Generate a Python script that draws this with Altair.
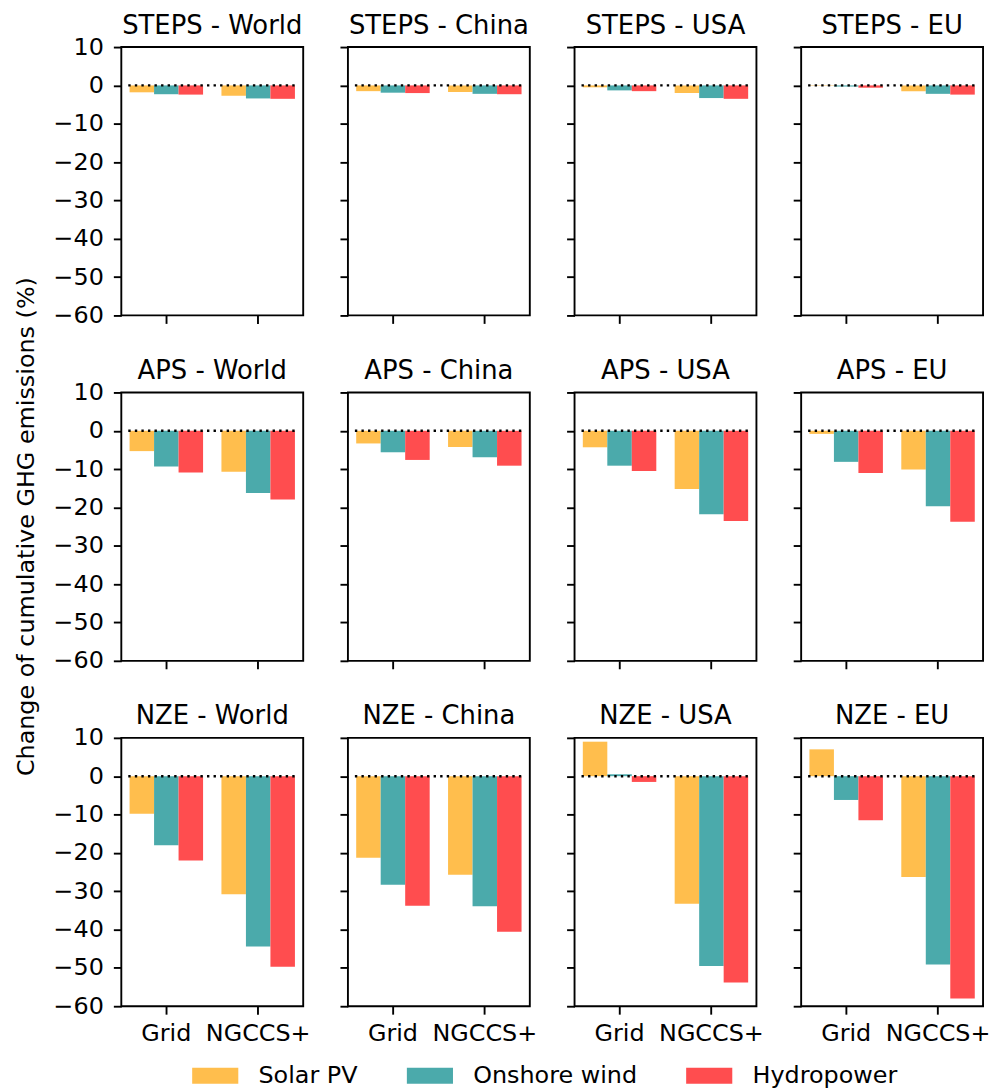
import altair as alt
import pandas as pd

scenarios = ["STEPS", "APS", "NZE"]
regions = ["World", "China", "USA", "EU"]
options = ["Grid", "NGCCS+"]
technologies = ["Solar PV", "Onshore wind", "Hydropower"]
colors = ["#FFBE4D", "#4BAAAB", "#FF4D4F"]

# order: scenario -> region -> option (Grid, NGCCS+)
solar_pv = [
    -1.8, -2.7, -1.5, -1.7, -0.5, -2.0, -0.1, -1.5,      # STEPS
    -5.3, -10.7, -3.3, -4.2, -4.3, -15.2, -0.8, -10.1,   # APS
    -9.8, -30.8, -21.3, -25.7, 9.0, -33.3, 7.0, -26.3,   # NZE
]
onshore_wind = [
    -2.3, -3.4, -1.9, -2.2, -1.3, -3.3, -0.3, -2.2,
    -9.3, -16.2, -5.6, -6.9, -9.1, -21.8, -8.1, -19.7,
    -18.0, -44.4, -28.3, -33.9, 0.5, -49.5, -6.2, -49.1,
]
hydropower = [
    -2.4, -3.5, -2.0, -2.3, -1.5, -3.5, -0.6, -2.4,
    -10.9, -17.9, -7.6, -9.1, -10.5, -23.5, -11.0, -23.7,
    -22.0, -49.7, -33.8, -40.6, -1.5, -53.8, -11.5, -58.0,
]
y_ticks = [10, 0, -10, -20, -30, -40, -50, -60]
y_title = "Change of cumulative GHG emissions (%)"

rows = []
i = 0
for sc in scenarios:
    for rg in regions:
        for op in options:
            for tech, vals in zip(technologies, [solar_pv, onshore_wind, hydropower]):
                rows.append(dict(scenario=sc, region=rg, option=op,
                                 technology=tech, value=vals[i]))
            i += 1
df = pd.DataFrame(rows)
zero_df = pd.DataFrame({"baseline": [0]})

FONT = "DejaVu Sans"
W, H = 183, 270
LABEL = 24
LW = 1.9


def panel(r, c):
    sc, rg = scenarios[r], regions[c]
    sub = df[(df.scenario == sc) & (df.region == rg)]
    left = c == 0
    bottom = r == len(scenarios) - 1
    x_axis = alt.Axis(title=None, labels=bottom, labelAngle=0, ticks=True,
                      tickSize=8, labelPadding=8)
    y_axis = alt.Axis(values=y_ticks, labels=left, ticks=True, tickSize=8,
                      labelPadding=10, title=None)
    yscale = alt.Scale(domain=[-60, 10], nice=False, zero=False)
    bars = alt.Chart(sub).mark_bar().encode(
        x=alt.X("option:N", sort=options,
                scale=alt.Scale(paddingInner=0.2, paddingOuter=0.09),
                axis=x_axis),
        xOffset=alt.XOffset("technology:N", sort=technologies,
                            scale=alt.Scale(paddingInner=0, paddingOuter=0)),
        y=alt.Y("value:Q", scale=yscale, axis=y_axis),
        y2=alt.datum(0),
        color=alt.Color("technology:N", sort=technologies,
                        scale=alt.Scale(domain=technologies, range=colors),
                        legend=alt.Legend(title=None)),
    )
    zero = alt.Chart(zero_df).mark_rule(
        color="black", strokeWidth=2.4, strokeDash=[2.4, 4.2]
    ).encode(y=alt.Y("baseline:Q", scale=yscale, axis=y_axis),
             x=alt.value(7), x2=alt.value(W - 6))
    title = alt.Chart(zero_df).mark_text(
        text=f"{sc} - {rg}", font=FONT, fontSize=26, color="black",
        align="center", baseline="top"
    ).encode(x=alt.value(W / 2), y=alt.value(-34.5))
    layers = [bars, zero, title]
    if left and r == 1:
        layers.append(alt.Chart(zero_df).mark_text(
            text=y_title, font=FONT, fontSize=24, color="black", angle=270,
            align="center", baseline="top"
        ).encode(x=alt.value(-107), y=alt.value(H / 2)))
    return alt.layer(*layers).properties(width=W, height=H)


panels = [panel(r, c) for r in range(3) for c in range(4)]

chart = alt.concat(
    *panels, columns=4, bounds="flush", spacing={"row": 77.5, "column": 45}
).properties(
    padding={"left": 6, "top": 0, "right": 0, "bottom": 0},
).configure_view(
    stroke="black", strokeWidth=LW
).configure_axis(
    labelFont=FONT, labelFontSize=LABEL, labelColor="black", labelOverlap=False,
    tickColor="black", tickWidth=LW, domain=False, grid=False,
).configure_legend(
    orient="none", legendX=82.5, legendY=1023, direction="horizontal",
    symbolType="M-2.9,-1L2.9,-1L2.9,1L-2.9,1Z", symbolSize=256,
    symbolStrokeWidth=0, labelFont=FONT, labelFontSize=LABEL, labelLimit=400,
    labelColor="black", labelOffset=31.5, columnPadding=48, padding=0,
)

chart.save("out.html", embed_options={"renderer": "svg", "actions": False})
